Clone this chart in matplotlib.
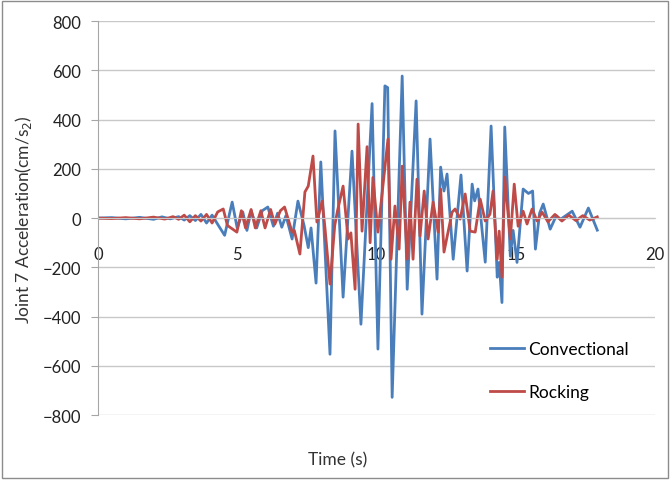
import matplotlib
matplotlib.use('Agg')
import matplotlib.pyplot as plt
from matplotlib.patches import Rectangle

# Convectional series (time s, acceleration cm/s2) - peaks
conv_t = [0.0, 0.5, 1.0, 1.5, 2.0, 2.3, 2.6, 2.9, 3.1, 3.3, 3.5, 3.7, 3.9, 4.1, 4.3,
          4.55, 4.82, 5.0, 5.2, 5.35, 5.5, 5.7, 5.9, 6.1, 6.3, 6.45, 6.6, 6.75, 6.97,
          7.18, 7.4, 7.55, 7.65, 7.83, 8.0, 8.33, 8.51, 8.8, 9.12, 9.44, 9.84, 10.05,
          10.3, 10.4, 10.56, 10.92, 11.1, 11.42, 11.63, 11.92, 12.17, 12.3, 12.42,
          12.53, 12.75, 13.03, 13.25, 13.43, 13.52, 13.64, 13.9, 14.11, 14.33, 14.4,
          14.5, 14.6, 14.8, 14.9, 15.04, 15.26, 15.45, 15.6, 15.7, 15.85, 15.98,
          16.23, 16.45, 16.6, 17.02, 17.3, 17.6, 17.92]
conv_v = [0, 2, -3, 3, -5, 5, -3, 6, -8, 10, -10, 15, -20, 12, -25,
          -70, 65, -40, 25, -50, 30, -40, 30, 45, -33, 20, -37, 10, -85,
          69, -30, -120, -40, -264, 228, -553, 354, -321, 272, -431, 465, -532,
          537, 530, -728, 577, -289, 476, -390, 321, -248, 207, 110,
          179, -167, 175, -215, 138, 70, 118, -179, 374, -240, -180,
          -343, 370, -155, -50, -180, 118, 100, 110, -126, 20, 57,
          -45, 10, -5, 28, -37, 41, -49]

# Rocking series
rock_t = [0.0, 0.5, 1.0, 1.5, 2.0, 2.4, 2.7, 2.9, 3.1, 3.3, 3.5, 3.7, 3.9, 4.1, 4.3,
          4.5, 4.65, 4.99, 5.15, 5.3, 5.5, 5.65, 5.85, 6.0, 6.2, 6.35, 6.55, 6.7,
          6.97, 7.05, 7.25, 7.43, 7.55, 7.72, 7.86, 8.05, 8.15, 8.33, 8.5, 8.6, 8.8,
          8.98, 9.08, 9.23, 9.34, 9.48, 9.66, 9.77, 9.87, 10.05, 10.41, 10.52, 10.66,
          10.81, 10.92, 11.1, 11.2, 11.31, 11.45, 11.56, 11.71, 11.85, 12.03, 12.21,
          12.3, 12.42, 12.71, 12.82, 13.0, 13.18, 13.36, 13.54, 13.72, 13.9, 14.07,
          14.18, 14.33, 14.4, 14.5, 14.6, 14.8, 14.94, 15.08, 15.26, 15.4, 15.58,
          15.76, 15.94, 16.15, 16.4, 16.65, 16.9, 17.15, 17.4, 17.65, 17.92]
rock_v = [0, -2, 2, -3, 4, -4, 6, -5, 12, -15, 10, -12, 15, -20, 25,
          37, -30, -57, 30, -40, 35, -40, 30, -40, 35, -25, 30, 45,
          -57, -50, -146, 106, 130, 252, -16, 69, -40, -268, -30, 30, 130,
          -85, -60, -289, 382, -53, 290, -100, 165, -57, 321, -167, 49,
          -126, 211, -167, 65, -167, 158, -73, 110, -85, 65, -57,
          118, -138, 24, 37, -4, 98, -53, -57, 77, -12, 16,
          110, -167, -53, -240, 167, -85, 138, -33, 28, -24, 37,
          -12, 24, -15, 15, -12, 12, -10, 10, -8, 5]

x_ticks = [0, 5, 10, 15, 20]
y_ticks = [-800, -600, -400, -200, 0, 200, 400, 600, 800]

plt.rcParams['font.family'] = ['Lato', 'DejaVu Sans']

fig = plt.figure(figsize=(6.7, 4.81), dpi=100)
ax = fig.add_axes([0.146, 0.135, 0.832, 0.819])

ax.plot(conv_t, conv_v, color='#4A7EBB', lw=2.0, label='Convectional', solid_joinstyle='round')
ax.plot(rock_t, rock_v, color='#BE4B48', lw=2.0, label='Rocking', solid_joinstyle='round')

ax.set_xlim(0, 20)
ax.set_ylim(-800, 800)
ax.set_xticks(x_ticks)
ax.set_yticks(y_ticks)
ax.grid(axis='y', color='#C8C8C8', lw=1)
ax.set_axisbelow(True)

for s in ['top', 'right']:
    ax.spines[s].set_visible(False)
ax.spines['left'].set_color('#A6A6A6')
ax.spines['bottom'].set_position(('data', 0))
ax.spines['bottom'].set_color('#C8C8C8')

ax.tick_params(axis='x', length=0, pad=20, labelsize=12, colors='#222222')
ax.tick_params(axis='y', length=5, color='#A6A6A6', pad=7, labelsize=12, labelcolor='#222222')

ax.set_ylabel('Joint 7 Acceleration(cm/s$_2$)', fontsize=12.5, color='#333333', labelpad=6)
ax.set_xlabel('Time (s)', fontsize=12.5, color='#333333')
ax.xaxis.set_label_coords(0.43, -0.092)

ax.legend(loc='upper left', bbox_to_anchor=(0.675, 0.228), frameon=False,
          fontsize=12.5, handlelength=2.0, handletextpad=0.2, labelspacing=1.55)

# chart area border
fig.patches.append(Rectangle((0.003, 0.004), 0.994, 0.992, transform=fig.transFigure,
                             fill=False, edgecolor='#8C8C8C', lw=1))

fig.savefig('out.png', dpi=100)
